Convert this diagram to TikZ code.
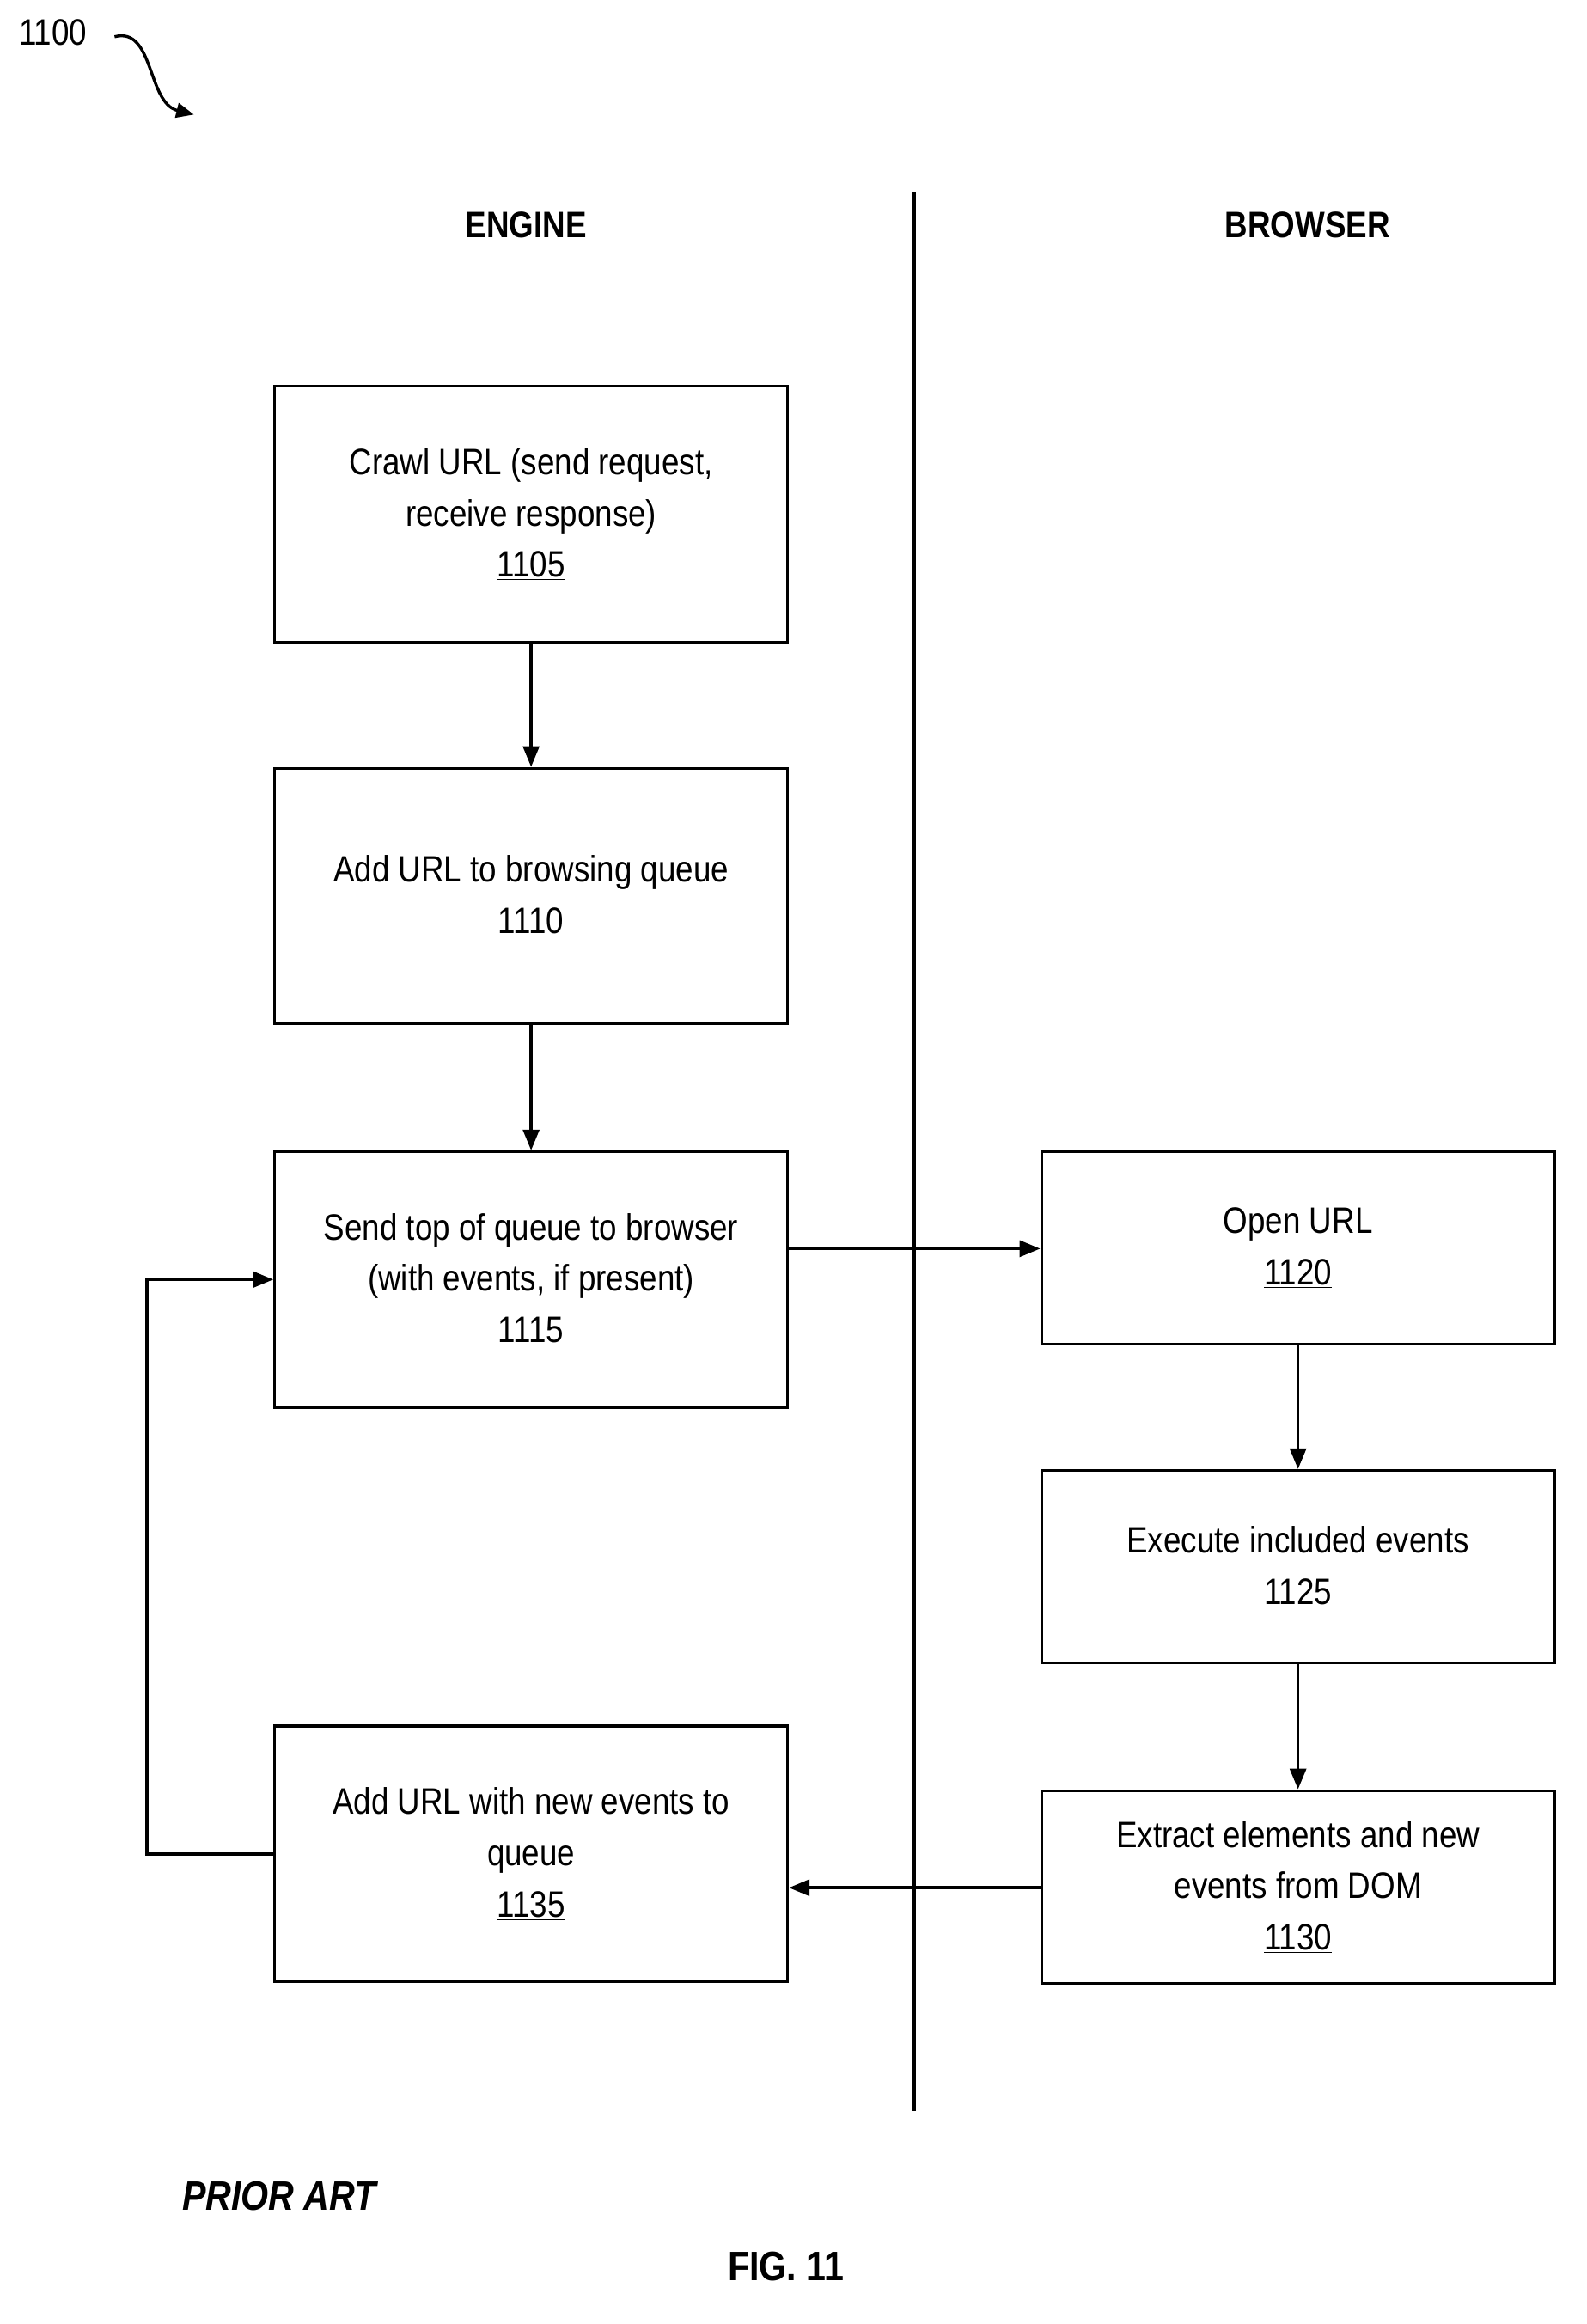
\documentclass[tikz,border=0pt]{standalone}
\usepackage{fontspec}
\setmainfont{Liberation Sans}[FakeStretch=0.86]
\usetikzlibrary{arrows.meta}
\begin{document}
\begin{tikzpicture}[x=1pt,y=-1pt,
  box/.style={draw,line width=2pt,minimum width=349pt,inner sep=0pt,align=center,font=\fontsize{25}{35}\selectfont},
  arr/.style={line width=2pt,-{Triangle[length=14pt,width=11pt]}},
  hdr/.style={font=\fontsize{25}{30}\selectfont\bfseries}]
\useasboundingbox (0,0) rectangle (1080,1582);
\node[box,minimum height=174pt] (b1105) at (361.5,350) {Crawl URL (send request,\\receive response)\\\underline{1105}};
\node[box,minimum height=174pt] (b1110) at (361.5,610) {Add URL to browsing queue\\\underline{1110}};
\node[box,minimum height=174pt] (b1115) at (361.5,871) {Send top of queue to browser\\(with events, if present)\\\underline{1115}};
\node[box,minimum height=174pt] (b1135) at (361.5,1262) {Add URL with new events to\\queue\\\underline{1135}};
\node[box,minimum height=131pt] (b1120) at (883.5,849.5) {Open URL\\\underline{1120}};
\node[box,minimum height=131pt] (b1125) at (883.5,1066.5) {Execute included events\\\underline{1125}};
\node[box,minimum height=131pt] (b1130) at (883.5,1284.5) {Extract elements and new\\events from DOM\\\underline{1130}};
\coordinate (lt) at (622,131); \coordinate (lb) at (622,1437);
\draw[line width=2.5pt] (lt) -- (lb);
\node[hdr] (eng) at (358,153) {ENGINE};
\node[hdr] (brw) at (890,153) {BROWSER};
\node[font=\fontsize{25}{30}\selectfont] (fig) at (36,22) {1100};
\coordinate (ce) at (132,78);
\draw[line width=2pt,-{Triangle[length=12pt,width=10pt]}] (78,25) .. controls (105,18) and (100,70) .. (ce);
\node[font=\fontsize{28}{30}\selectfont\bfseries\itshape] (pa) at (190,1495) {PRIOR ART};
\node[font=\fontsize{28}{30}\selectfont\bfseries] (f11) at (535,1543) {FIG. 11};
\draw[arr] (b1105) -- (b1110);
\draw[arr] (b1110) -- (b1115);
\draw[arr] (b1115.east |- 0,850) -- (b1120.west |- 0,850);
\draw[arr] (b1120) -- (b1125);
\draw[arr] (b1125) -- (b1130);
\draw[arr] (b1130.west |- 0,1285) -- (b1135.east |- 0,1285);
\draw[arr] (b1135.west) -- (100,1262) -- (100,871) -- (b1115.west);
\end{tikzpicture}
\end{document}
